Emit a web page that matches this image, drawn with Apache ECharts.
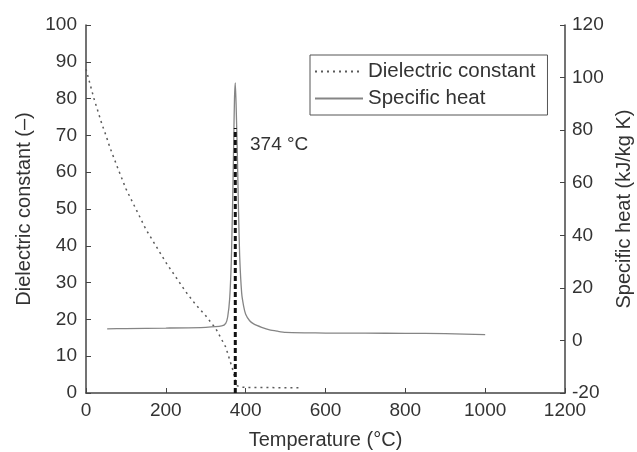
<!DOCTYPE html>
<html>
<head>
<meta charset="utf-8">
<script src="https://cdn.jsdelivr.net/npm/echarts@6/dist/echarts.min.js"></script>
<style>
	html, body { margin: 0; padding: 0; background: #fff; }
	#chart { width: 637px; height: 452px; }
</style>
</head>
<body>
<div id="chart"></div>
<script>
// dielectric constant of water (left axis)
var dielTemp = [0, 10, 20, 30, 40, 50, 60, 80, 100, 125, 150, 175, 200, 225, 250, 275, 300, 325, 340, 350, 360, 370, 374, 378, 390, 400, 450, 500, 540];
var dielValue = [88, 84, 80, 76.5, 73, 70, 66.7, 61, 55.5, 50, 44.5, 40, 35.5, 31.5, 27.5, 24, 21, 17.5, 14.5, 12.5, 9, 5.5, 3.5, 2, 1.6, 1.5, 1.5, 1.4, 1.4];
// specific heat (right axis)
var heatTemp = [53, 100, 200, 300, 340, 350, 355, 360, 364, 367, 370, 372, 374, 376, 379, 382, 385, 390, 395, 400, 410, 420, 440, 460, 480, 500, 550, 600, 700, 800, 900, 1000];
var heatValue = [4.4, 4.5, 4.7, 5.0, 5.5, 6.5, 9, 16, 30, 50, 75, 92, 98, 90, 72, 50, 32, 18, 13, 10, 7.5, 6.3, 5, 4, 3.5, 3.1, 2.9, 2.8, 2.75, 2.7, 2.6, 2.2];
// critical temperature marker
var critTemp = [374, 374];
var critValue = [0, 72];
var critLabel = '374 °C';

function pairs(xs, ys) {
	var out = [];
	for (var i = 0; i < xs.length; i++) {
		out.push([xs[i], ys[i]]);
	}
	return out;
}

function plain(v) {
	return String(v);
}

var font = 'Liberation Sans, Arial, sans-serif';
var textColor = '#333';
var axisColor = '#444';

var chart = echarts.init(document.getElementById('chart'));
var option = {
	backgroundColor: '#fff',
	animation: false,
	grid: { left: 86, right: 72, top: 25, bottom: 59, outerBoundsMode: 'none', containLabel: false },
	legend: {
		left: 310,
		top: 55,
		orient: 'vertical',
		borderColor: '#555',
		borderWidth: 1,
		padding: [6, 12, 6, 4],
		itemWidth: 48,
		itemHeight: 22,
		itemGap: 6,
		itemStyle: { opacity: 0 },
		textStyle: { fontFamily: font, fontSize: 20.5, color: textColor },
		data: ['Dielectric constant', 'Specific heat']
	},
	xAxis: {
		type: 'value',
		min: 0,
		max: 1200,
		interval: 200,
		name: 'Temperature (°C)',
		nameLocation: 'middle',
		nameGap: 37,
		nameTextStyle: { fontFamily: font, fontSize: 20, color: textColor },
		axisLine: { lineStyle: { color: axisColor, width: 1.5 } },
		axisTick: { inside: true, length: 5, lineStyle: { color: axisColor } },
		axisLabel: { fontFamily: font, fontSize: 19, color: textColor, margin: 8, formatter: plain },
		splitLine: { show: false }
	},
	yAxis: [{
		type: 'value',
		min: 0,
		max: 100,
		interval: 10,
		position: 'left',
		name: 'Dielectric constant (–)',
		nameLocation: 'middle',
		nameRotate: 90,
		nameGap: 52,
		nameTextStyle: { fontFamily: font, fontSize: 20, color: textColor },
		axisLine: { show: true, lineStyle: { color: axisColor, width: 1.5 } },
		axisTick: { show: true, inside: true, length: 5, lineStyle: { color: axisColor } },
		axisLabel: { fontFamily: font, fontSize: 19, color: textColor, margin: 9 },
		splitLine: { show: false }
	}, {
		type: 'value',
		min: -20,
		max: 120,
		interval: 20,
		position: 'right',
		name: 'Specific heat (kJ/kg K)',
		nameLocation: 'middle',
		nameRotate: 90,
		nameGap: 48,
		nameTextStyle: { fontFamily: font, fontSize: 20, color: textColor },
		axisLine: { show: true, lineStyle: { color: axisColor, width: 1.5 } },
		axisTick: { show: true, inside: true, length: 5, lineStyle: { color: axisColor } },
		axisLabel: { fontFamily: font, fontSize: 19, color: textColor, margin: 7, formatter: plain },
		splitLine: { show: false }
	}],
	graphic: [{
		type: 'text',
		left: 250,
		top: 135,
		style: { text: critLabel, fontFamily: font, fontSize: 19, fill: textColor }
	}],
	series: [{
		name: 'Dielectric constant',
		type: 'line',
		yAxisIndex: 0,
		data: pairs(dielTemp, dielValue),
		symbol: 'none',
		lineStyle: { color: '#5a5a5a', width: 1.5, type: [2, 4] },
		itemStyle: { color: '#5a5a5a' }
	}, {
		name: 'Specific heat',
		type: 'line',
		yAxisIndex: 1,
		data: pairs(heatTemp, heatValue),
		symbol: 'none',
		smooth: 0.2,
		lineStyle: { color: '#858585', width: 1.3 },
		itemStyle: { color: '#858585' }
	}, {
		name: 'critical',
		type: 'line',
		yAxisIndex: 0,
		data: pairs(critTemp, critValue),
		symbol: 'none',
		lineStyle: { color: '#111', width: 3, type: [5, 3] },
		z: 5
	}]
};
chart.setOption(option);
</script>
</body>
</html>
